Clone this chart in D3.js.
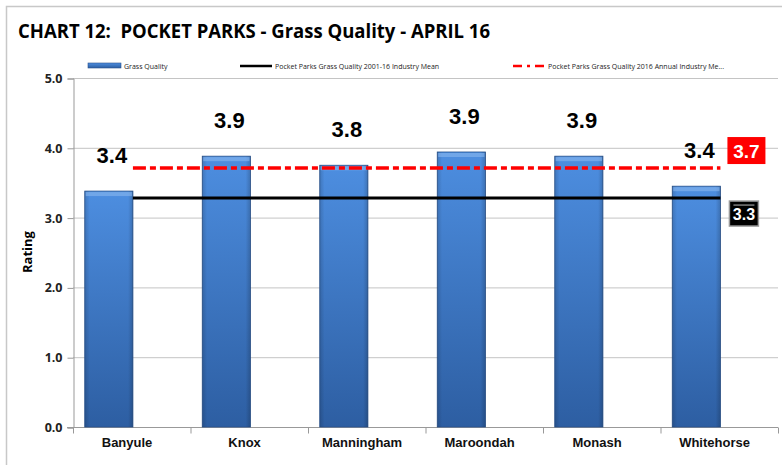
<!DOCTYPE html>
<html>
<head>
<meta charset="utf-8">
<script src="https://cdn.jsdelivr.net/npm/d3@7"></script>
<style>
  body { margin: 0; background: #fff; }
  svg { display: block; font-family: Arial, "Liberation Sans", sans-serif; }
</style>
</head>
<body>
<svg id="chart"></svg>
<script>
let categories = ['Banyule', 'Knox', 'Manningham', 'Maroondah', 'Monash', 'Whitehorse']
let grassQuality = [3.38, 3.88, 3.75, 3.94, 3.88, 3.45]
let valueLabels = ['3.4', '3.9', '3.8', '3.9', '3.9', '3.4']
let meanLongTerm = 3.28
let meanAnnual = 3.71
let yTicks = [0, 1, 2, 3, 4, 5]
let legendLabels = ['Grass Quality', 'Pocket Parks Grass Quality 2001-16 Industry Mean', 'Pocket Parks Grass Quality 2016 Annual Industry Me...']

let width = 782
let height = 465
let plotLeft = 73
let plotRight = 778
let plotTop = 78
let plotBottom = 427

let svg = d3.select('#chart').attr('width', width).attr('height', height)

// gradient for the bars
let defs = svg.append('defs')
let grad = defs.append('linearGradient').attr('id', 'barGrad')
    .attr('x1', 0).attr('y1', 0).attr('x2', 0).attr('y2', 1)
grad.append('stop').attr('offset', '0%').attr('stop-color', '#4d8ee0')
grad.append('stop').attr('offset', '100%').attr('stop-color', '#2d5ea2')
let side = defs.append('linearGradient').attr('id', 'sideGrad')
    .attr('x1', 0).attr('y1', 0).attr('x2', 1).attr('y2', 0)
side.append('stop').attr('offset', '0%').attr('stop-color', '#000').attr('stop-opacity', 0.15)
side.append('stop').attr('offset', '10%').attr('stop-color', '#000').attr('stop-opacity', 0)
side.append('stop').attr('offset', '90%').attr('stop-color', '#000').attr('stop-opacity', 0)
side.append('stop').attr('offset', '100%').attr('stop-color', '#000').attr('stop-opacity', 0.18)

// outer border
svg.append('rect').attr('x', 6.5).attr('y', 6.5).attr('width', 790).attr('height', 470)
    .attr('fill', 'none').attr('stroke', '#c8c8c8').attr('stroke-width', 1.5)

// title
svg.append('text').attr('x', 18).attr('y', 38)
    .attr('font-family', 'Open Sans, sans-serif').attr('font-weight', 'bold').attr('font-size', 20)
    .attr('textLength', 472).attr('lengthAdjust', 'spacingAndGlyphs')
    .style('white-space', 'pre')
    .attr('fill', '#000')
    .text('CHART 12:  POCKET PARKS - Grass Quality - APRIL 16')

let xScale = d3.scaleBand().domain(categories).range([plotLeft, plotRight]).padding(0)
let yScale = d3.scaleLinear().domain([0, 5]).range([plotBottom, plotTop])
let bw = xScale.bandwidth()
let barX = (c) => xScale(c) + bw * 0.1
let barW = bw * 0.41

// gridlines
svg.append('g').selectAll('line').data(yTicks.filter(t => t > 0)).enter().append('line')
    .attr('x1', plotLeft).attr('x2', plotRight)
    .attr('y1', d => yScale(d) + 0.5).attr('y2', d => yScale(d) + 0.5)
    .attr('stroke', '#c4c4c4').attr('stroke-width', 1)

// y axis
let yAxis = d3.axisLeft(yScale).tickValues(yTicks).tickFormat(d3.format('.1f')).tickSize(6).tickPadding(5)
let gy = svg.append('g').attr('transform', 'translate(' + (plotLeft + 0.5) + ',0.5)').call(yAxis)
gy.select('.domain').attr('stroke', '#999')
gy.selectAll('.tick line').attr('stroke', '#999')
gy.selectAll('.tick text').attr('font-family', 'Open Sans, sans-serif').attr('font-weight', 'bold')
    .attr('font-size', 12.5).attr('fill', '#222')

// x axis
let gx = svg.append('g').attr('transform', 'translate(0,' + (plotBottom + 0.5) + ')')
gx.append('line').attr('x1', plotLeft - 6).attr('x2', plotRight).attr('stroke', '#999')
gx.selectAll('.tk').data(categories.concat(['end'])).enter().append('line')
    .attr('x1', (d, i) => plotLeft + i * bw + 0.5).attr('x2', (d, i) => plotLeft + i * bw + 0.5)
    .attr('y1', 0).attr('y2', 6).attr('stroke', '#999')
gx.selectAll('.lbl').data(categories).enter().append('text')
    .attr('x', d => xScale(d) + bw * 0.46).attr('y', 19)
    .attr('text-anchor', 'middle').attr('font-weight', 'bold').attr('font-size', 13)
    .attr('fill', '#111').text(d => d)

// y axis title
svg.append('text').attr('transform', 'translate(32,252) rotate(-90)')
    .attr('text-anchor', 'middle').attr('font-family', 'Open Sans, sans-serif')
    .attr('font-weight', 'bold').attr('font-size', 13).text('Rating')

// bars
let bars = svg.append('g').selectAll('g').data(categories).enter().append('g')
bars.append('rect')
    .attr('x', d => barX(d)).attr('width', barW)
    .attr('y', (d, i) => yScale(grassQuality[i])).attr('height', (d, i) => plotBottom - yScale(grassQuality[i]))
    .attr('fill', 'url(#barGrad)').attr('stroke', '#28528c').attr('stroke-width', 0.8)
bars.append('rect')
    .attr('x', d => barX(d)).attr('width', barW)
    .attr('y', (d, i) => yScale(grassQuality[i])).attr('height', (d, i) => plotBottom - yScale(grassQuality[i]))
    .attr('fill', 'url(#sideGrad)')
bars.append('rect')
    .attr('x', d => barX(d) + 1).attr('width', barW - 2)
    .attr('y', (d, i) => yScale(grassQuality[i]) + 1).attr('height', 4)
    .attr('fill', '#8bb8ee').attr('opacity', 0.6)

// value labels
svg.append('g').selectAll('text').data(categories).enter().append('text')
    .attr('x', d => barX(d) + barW / 2 + 3)
    .attr('y', (d, i) => yScale(grassQuality[i]) - 28)
    .attr('text-anchor', 'middle').attr('font-weight', 'bold').attr('font-size', 22)
    .attr('fill', '#000').text((d, i) => valueLabels[i])

// mean lines
let lineX1 = barX(categories[0]) + barW
let lineX2 = barX(categories[categories.length - 1]) + barW
svg.append('line').attr('x1', lineX1).attr('x2', lineX2)
    .attr('y1', yScale(meanLongTerm)).attr('y2', yScale(meanLongTerm))
    .attr('stroke', '#000').attr('stroke-width', 3)
svg.append('line').attr('x1', lineX1).attr('x2', lineX2)
    .attr('y1', yScale(meanAnnual)).attr('y2', yScale(meanAnnual))
    .attr('stroke', '#ff0000').attr('stroke-width', 3.5)
    .attr('stroke-dasharray', '13,4,6,4')

// mean value boxes
let boxRed = svg.append('g').attr('transform', 'translate(' + (lineX2 + 7) + ',' + (yScale(meanAnnual) - 31) + ')')
boxRed.append('rect').attr('width', 38).attr('height', 27).attr('fill', '#ff0000')
boxRed.append('text').attr('x', 19).attr('y', 21).attr('text-anchor', 'middle')
    .attr('font-weight', 'bold').attr('font-size', 19).attr('fill', '#fff').text(d3.format('.1f')(meanAnnual))

let boxBlack = svg.append('g').attr('transform', 'translate(' + (lineX2 + 9) + ',' + (yScale(meanLongTerm) + 3) + ')')
boxBlack.append('rect').attr('width', 29).attr('height', 25).attr('fill', '#000')
    .attr('stroke', '#9a9a9a').attr('stroke-width', 1.5)
boxBlack.append('line').attr('x1', 4).attr('x2', 25).attr('y1', 4).attr('y2', 4)
    .attr('stroke', '#bbb').attr('stroke-width', 1)
boxBlack.append('text').attr('x', 14.5).attr('y', 19).attr('text-anchor', 'middle')
    .attr('font-weight', 'bold').attr('font-size', 16).attr('fill', '#fff').text(d3.format('.1f')(meanLongTerm))

// legend
let lg = svg.append('g').attr('font-family', 'Open Sans, sans-serif').attr('font-size', 7).attr('fill', '#222')
lg.append('rect').attr('x', 88).attr('y', 63).attr('width', 33).attr('height', 5)
    .attr('fill', 'url(#barGrad)').attr('stroke', '#28528c').attr('stroke-width', 0.6)
lg.append('text').attr('x', 124).attr('y', 68.5).text(legendLabels[0])
lg.append('line').attr('x1', 240).attr('x2', 272).attr('y1', 66).attr('y2', 66)
    .attr('stroke', '#000').attr('stroke-width', 2.5)
lg.append('text').attr('x', 275).attr('y', 68.5).text(legendLabels[1])
lg.append('line').attr('x1', 513).attr('x2', 545).attr('y1', 66).attr('y2', 66)
    .attr('stroke', '#ff0000').attr('stroke-width', 2.5).attr('stroke-dasharray', '9,5,3,5')
lg.append('text').attr('x', 548).attr('y', 68.5).text(legendLabels[2])
</script>
</body>
</html>
